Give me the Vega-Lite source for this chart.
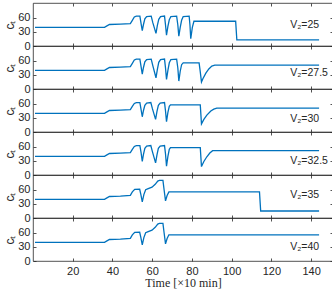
{
  "$schema": "https://vega.github.io/schema/vega-lite/v6.json",
  "padding": {"left": 3, "top": 2, "right": 0, "bottom": 0},
  "background": "white",
  "spacing": 0,
  "bounds": "flush",
  "datasets": {
    "p25": [
      {"t": 1, "c": 40}, {"t": 36, "c": 40}, {"t": 37, "c": 42.5}, {"t": 38.5, "c": 46}, {"t": 44, "c": 47}, {"t": 49, "c": 48},
      {"t": 50, "c": 55}, {"t": 51, "c": 62}, {"t": 52, "c": 64}, {"t": 53.8, "c": 64}, {"t": 54.4, "c": 48}, {"t": 55, "c": 33},
      {"t": 55.6, "c": 46}, {"t": 56.3, "c": 58}, {"t": 57.2, "c": 63}, {"t": 59.5, "c": 64}, {"t": 60.3, "c": 50}, {"t": 61.9, "c": 27},
      {"t": 62.6, "c": 44}, {"t": 63.3, "c": 57}, {"t": 64.2, "c": 63}, {"t": 66.2, "c": 64}, {"t": 66.7, "c": 45}, {"t": 67.2, "c": 23},
      {"t": 67.9, "c": 42}, {"t": 68.6, "c": 56}, {"t": 69.4, "c": 63}, {"t": 72.3, "c": 64}, {"t": 72.9, "c": 45}, {"t": 73.4, "c": 21},
      {"t": 74.1, "c": 40}, {"t": 74.8, "c": 55}, {"t": 75.6, "c": 63}, {"t": 78.6, "c": 64}, {"t": 79, "c": 45}, {"t": 79.4, "c": 15.5},
      {"t": 80.2, "c": 40}, {"t": 81, "c": 53}, {"t": 102, "c": 53}, {"t": 102.6, "c": 13}, {"t": 144, "c": 13}
    ],
    "p275": [
      {"t": 1, "c": 40}, {"t": 36, "c": 40}, {"t": 37, "c": 42.5}, {"t": 38.5, "c": 46}, {"t": 44, "c": 47}, {"t": 49, "c": 48},
      {"t": 50, "c": 55}, {"t": 51, "c": 62}, {"t": 52, "c": 64}, {"t": 53.8, "c": 64}, {"t": 54.4, "c": 48}, {"t": 55, "c": 32},
      {"t": 55.6, "c": 46}, {"t": 56.3, "c": 58}, {"t": 57.2, "c": 63}, {"t": 59.5, "c": 64}, {"t": 60.3, "c": 50}, {"t": 61.9, "c": 24},
      {"t": 62.6, "c": 42}, {"t": 63.3, "c": 57}, {"t": 64.2, "c": 63}, {"t": 66.2, "c": 64}, {"t": 66.7, "c": 45}, {"t": 67.2, "c": 20.5},
      {"t": 67.9, "c": 40}, {"t": 68.6, "c": 56}, {"t": 69.4, "c": 63}, {"t": 72.3, "c": 64}, {"t": 72.9, "c": 45}, {"t": 73.4, "c": 17},
      {"t": 74.1, "c": 38}, {"t": 74.8, "c": 52}, {"t": 75.6, "c": 56}, {"t": 83.6, "c": 56}, {"t": 84.1, "c": 40}, {"t": 84.8, "c": 15},
      {"t": 85.5, "c": 22}, {"t": 87, "c": 34}, {"t": 88.5, "c": 43}, {"t": 90, "c": 49}, {"t": 91.5, "c": 51}, {"t": 144, "c": 51}
    ],
    "p30": [
      {"t": 1, "c": 40}, {"t": 36, "c": 40}, {"t": 37, "c": 42.5}, {"t": 38.5, "c": 46}, {"t": 44, "c": 47}, {"t": 49, "c": 48},
      {"t": 50, "c": 55}, {"t": 51, "c": 61}, {"t": 52, "c": 63}, {"t": 53.8, "c": 63}, {"t": 54.4, "c": 48}, {"t": 55, "c": 32.6},
      {"t": 55.6, "c": 46}, {"t": 56.3, "c": 57}, {"t": 57.2, "c": 62}, {"t": 59.3, "c": 63}, {"t": 60.1, "c": 50}, {"t": 61.7, "c": 27},
      {"t": 62.4, "c": 44}, {"t": 63.1, "c": 57}, {"t": 64, "c": 62}, {"t": 66.2, "c": 63}, {"t": 66.7, "c": 45}, {"t": 67.2, "c": 22},
      {"t": 67.9, "c": 42}, {"t": 68.6, "c": 55}, {"t": 69.2, "c": 58}, {"t": 84.2, "c": 58}, {"t": 84.8, "c": 17.5},
      {"t": 86, "c": 27}, {"t": 87.5, "c": 36}, {"t": 89.5, "c": 45}, {"t": 91, "c": 49}, {"t": 92.5, "c": 51}, {"t": 144, "c": 51}
    ],
    "p325": [
      {"t": 1, "c": 40}, {"t": 36, "c": 40}, {"t": 37, "c": 42.5}, {"t": 38.5, "c": 46}, {"t": 44, "c": 47}, {"t": 49, "c": 48},
      {"t": 50, "c": 55}, {"t": 51, "c": 61}, {"t": 52, "c": 63}, {"t": 53.8, "c": 63}, {"t": 54.4, "c": 48}, {"t": 55, "c": 29},
      {"t": 55.6, "c": 44}, {"t": 56.3, "c": 57}, {"t": 57.2, "c": 62}, {"t": 59.3, "c": 63}, {"t": 60.1, "c": 50}, {"t": 61.7, "c": 26},
      {"t": 62.4, "c": 43}, {"t": 63.1, "c": 57}, {"t": 64, "c": 62}, {"t": 66.2, "c": 63}, {"t": 66.7, "c": 45}, {"t": 67.2, "c": 19},
      {"t": 67.9, "c": 40}, {"t": 68.6, "c": 55}, {"t": 69.2, "c": 58.5}, {"t": 84.2, "c": 58.5}, {"t": 84.8, "c": 18},
      {"t": 86, "c": 29}, {"t": 87.5, "c": 39}, {"t": 89, "c": 47}, {"t": 90.4, "c": 52}, {"t": 144, "c": 52}
    ],
    "p35": [
      {"t": 1, "c": 40}, {"t": 36, "c": 40}, {"t": 37, "c": 42.5}, {"t": 38.5, "c": 46}, {"t": 44, "c": 47}, {"t": 49, "c": 48.5},
      {"t": 50, "c": 56}, {"t": 51.2, "c": 61.4}, {"t": 53.7, "c": 61.5}, {"t": 54.3, "c": 50}, {"t": 55, "c": 34.5}, {"t": 55.8, "c": 50},
      {"t": 56.7, "c": 60.6}, {"t": 58, "c": 63}, {"t": 59.9, "c": 66}, {"t": 61.5, "c": 72}, {"t": 62.8, "c": 79}, {"t": 63.6, "c": 80.5},
      {"t": 65.4, "c": 80.5}, {"t": 66, "c": 60}, {"t": 66.7, "c": 36.6}, {"t": 67.5, "c": 48}, {"t": 68.4, "c": 55.7},
      {"t": 114, "c": 55.7}, {"t": 114.6, "c": 15}, {"t": 144, "c": 15}
    ],
    "p40": [
      {"t": 1, "c": 40}, {"t": 36, "c": 40}, {"t": 37, "c": 42.5}, {"t": 38.5, "c": 46}, {"t": 44, "c": 47}, {"t": 49, "c": 48.5},
      {"t": 50, "c": 56}, {"t": 51.2, "c": 61.4}, {"t": 53.7, "c": 61.5}, {"t": 54.3, "c": 50}, {"t": 55, "c": 34.5}, {"t": 55.8, "c": 50},
      {"t": 56.7, "c": 60.6}, {"t": 58, "c": 63}, {"t": 59.9, "c": 66}, {"t": 61.5, "c": 72}, {"t": 62.8, "c": 79}, {"t": 63.6, "c": 80.5},
      {"t": 65.4, "c": 80.5}, {"t": 66, "c": 60}, {"t": 66.7, "c": 36.6}, {"t": 67.5, "c": 48}, {"t": 68.4, "c": 56},
      {"t": 144, "c": 56}
    ]
  },
  "vconcat": [
    {
      "width": 300, "height": 43,
      "data": {"name": "p25"},
      "layer": [
        {"mark": {"type": "line", "color": "#0072BD", "strokeWidth": 1.3},
         "encoding": {
           "x": {"field": "t", "type": "quantitative", "scale": {"domain": [0, 151], "nice": false, "zero": false}, "axis": {"orient": "bottom", "values": [20, 40, 60, 80, 100, 120, 140], "labels": false, "title": null}},
           "y": {"field": "c", "type": "quantitative", "scale": {"domain": [0, 92], "nice": false}, "axis": {"orient": "left", "values": [0, 30, 60], "title": "cₜ"}}
         }},
        {"mark": {"type": "line", "opacity": 0},
         "encoding": {
           "x": {"field": "t", "type": "quantitative", "axis": {"orient": "top", "values": [20, 40, 60, 80, 100, 120, 140], "labels": false, "title": null}},
           "y": {"field": "c", "type": "quantitative", "axis": {"orient": "right", "values": [0, 30, 60], "labels": false, "title": null}}
         }},
        {"data": {"values": [{}]},
         "mark": {"type": "text", "align": "left", "baseline": "middle", "font": "Liberation Sans", "fontSize": 10.5, "color": "#262626"},
         "encoding": {"x": {"datum": 129.5, "type": "quantitative", "axis": null}, "y": {"datum": 45, "type": "quantitative", "axis": null}, "text": {"value": "V₂=25"}}}
      ],
      "resolve": {"axis": {"x": "independent", "y": "independent"}}
    },
    {
      "width": 300, "height": 43,
      "data": {"name": "p275"},
      "layer": [
        {"mark": {"type": "line", "color": "#0072BD", "strokeWidth": 1.3},
         "encoding": {
           "x": {"field": "t", "type": "quantitative", "scale": {"domain": [0, 151], "nice": false, "zero": false}, "axis": {"orient": "bottom", "values": [20, 40, 60, 80, 100, 120, 140], "labels": false, "title": null}},
           "y": {"field": "c", "type": "quantitative", "scale": {"domain": [0, 92], "nice": false}, "axis": {"orient": "left", "values": [0, 30, 60], "title": "cₜ"}}
         }},
        {"mark": {"type": "line", "opacity": 0},
         "encoding": {
           "x": {"field": "t", "type": "quantitative", "axis": {"orient": "top", "values": [20, 40, 60, 80, 100, 120, 140], "labels": false, "title": null}},
           "y": {"field": "c", "type": "quantitative", "axis": {"orient": "right", "values": [0, 30, 60], "labels": false, "title": null}}
         }},
        {"data": {"values": [{}]},
         "mark": {"type": "text", "align": "left", "baseline": "middle", "font": "Liberation Sans", "fontSize": 10.5, "color": "#262626"},
         "encoding": {"x": {"datum": 129.5, "type": "quantitative", "axis": null}, "y": {"datum": 35, "type": "quantitative", "axis": null}, "text": {"value": "V₂=27.5"}}}
      ],
      "resolve": {"axis": {"x": "independent", "y": "independent"}}
    },
    {
      "width": 300, "height": 43,
      "data": {"name": "p30"},
      "layer": [
        {"mark": {"type": "line", "color": "#0072BD", "strokeWidth": 1.3},
         "encoding": {
           "x": {"field": "t", "type": "quantitative", "scale": {"domain": [0, 151], "nice": false, "zero": false}, "axis": {"orient": "bottom", "values": [20, 40, 60, 80, 100, 120, 140], "labels": false, "title": null}},
           "y": {"field": "c", "type": "quantitative", "scale": {"domain": [0, 92], "nice": false}, "axis": {"orient": "left", "values": [0, 30, 60], "title": "cₜ"}}
         }},
        {"mark": {"type": "line", "opacity": 0},
         "encoding": {
           "x": {"field": "t", "type": "quantitative", "axis": {"orient": "top", "values": [20, 40, 60, 80, 100, 120, 140], "labels": false, "title": null}},
           "y": {"field": "c", "type": "quantitative", "axis": {"orient": "right", "values": [0, 30, 60], "labels": false, "title": null}}
         }},
        {"data": {"values": [{}]},
         "mark": {"type": "text", "align": "left", "baseline": "middle", "font": "Liberation Sans", "fontSize": 10.5, "color": "#262626"},
         "encoding": {"x": {"datum": 129.5, "type": "quantitative", "axis": null}, "y": {"datum": 27, "type": "quantitative", "axis": null}, "text": {"value": "V₂=30"}}}
      ],
      "resolve": {"axis": {"x": "independent", "y": "independent"}}
    },
    {
      "width": 300, "height": 43,
      "data": {"name": "p325"},
      "layer": [
        {"mark": {"type": "line", "color": "#0072BD", "strokeWidth": 1.3},
         "encoding": {
           "x": {"field": "t", "type": "quantitative", "scale": {"domain": [0, 151], "nice": false, "zero": false}, "axis": {"orient": "bottom", "values": [20, 40, 60, 80, 100, 120, 140], "labels": false, "title": null}},
           "y": {"field": "c", "type": "quantitative", "scale": {"domain": [0, 92], "nice": false}, "axis": {"orient": "left", "values": [0, 30, 60], "title": "cₜ"}}
         }},
        {"mark": {"type": "line", "opacity": 0},
         "encoding": {
           "x": {"field": "t", "type": "quantitative", "axis": {"orient": "top", "values": [20, 40, 60, 80, 100, 120, 140], "labels": false, "title": null}},
           "y": {"field": "c", "type": "quantitative", "axis": {"orient": "right", "values": [0, 30, 60], "labels": false, "title": null}}
         }},
        {"data": {"values": [{}]},
         "mark": {"type": "text", "align": "left", "baseline": "middle", "font": "Liberation Sans", "fontSize": 10.5, "color": "#262626"},
         "encoding": {"x": {"datum": 129.5, "type": "quantitative", "axis": null}, "y": {"datum": 31, "type": "quantitative", "axis": null}, "text": {"value": "V₂=32.5"}}}
      ],
      "resolve": {"axis": {"x": "independent", "y": "independent"}}
    },
    {
      "width": 300, "height": 43,
      "data": {"name": "p35"},
      "layer": [
        {"mark": {"type": "line", "color": "#0072BD", "strokeWidth": 1.3},
         "encoding": {
           "x": {"field": "t", "type": "quantitative", "scale": {"domain": [0, 151], "nice": false, "zero": false}, "axis": {"orient": "bottom", "values": [20, 40, 60, 80, 100, 120, 140], "labels": false, "title": null}},
           "y": {"field": "c", "type": "quantitative", "scale": {"domain": [0, 92], "nice": false}, "axis": {"orient": "left", "values": [0, 30, 60], "title": "cₜ"}}
         }},
        {"mark": {"type": "line", "opacity": 0},
         "encoding": {
           "x": {"field": "t", "type": "quantitative", "axis": {"orient": "top", "values": [20, 40, 60, 80, 100, 120, 140], "labels": false, "title": null}},
           "y": {"field": "c", "type": "quantitative", "axis": {"orient": "right", "values": [0, 30, 60], "labels": false, "title": null}}
         }},
        {"data": {"values": [{}]},
         "mark": {"type": "text", "align": "left", "baseline": "middle", "font": "Liberation Sans", "fontSize": 10.5, "color": "#262626"},
         "encoding": {"x": {"datum": 129.5, "type": "quantitative", "axis": null}, "y": {"datum": 50, "type": "quantitative", "axis": null}, "text": {"value": "V₂=35"}}}
      ],
      "resolve": {"axis": {"x": "independent", "y": "independent"}}
    },
    {
      "width": 300, "height": 43,
      "data": {"name": "p40"},
      "layer": [
        {"mark": {"type": "line", "color": "#0072BD", "strokeWidth": 1.3},
         "encoding": {
           "x": {"field": "t", "type": "quantitative", "scale": {"domain": [0, 151], "nice": false, "zero": false}, "axis": {"orient": "bottom", "values": [20, 40, 60, 80, 100, 120, 140], "labels": true, "title": "Time [×10 min]", "titleFont": "Liberation Serif", "titleFontSize": 12, "labelPadding": 7, "titlePadding": 1}},
           "y": {"field": "c", "type": "quantitative", "scale": {"domain": [0, 92], "nice": false}, "axis": {"orient": "left", "values": [0, 30, 60], "title": "cₜ"}}
         }},
        {"mark": {"type": "line", "opacity": 0},
         "encoding": {
           "x": {"field": "t", "type": "quantitative", "axis": {"orient": "top", "values": [20, 40, 60, 80, 100, 120, 140], "labels": false, "title": null}},
           "y": {"field": "c", "type": "quantitative", "axis": {"orient": "right", "values": [0, 30, 60], "labels": false, "title": null}}
         }},
        {"data": {"values": [{}]},
         "mark": {"type": "text", "align": "left", "baseline": "middle", "font": "Liberation Sans", "fontSize": 10.5, "color": "#262626"},
         "encoding": {"x": {"datum": 129.5, "type": "quantitative", "axis": null}, "y": {"datum": 29, "type": "quantitative", "axis": null}, "text": {"value": "V₂=40"}}}
      ],
      "resolve": {"axis": {"x": "independent", "y": "independent"}}
    }
  ],
  "config": {
    "view": {"stroke": "#262626", "strokeWidth": 0.8},
    "axis": {
      "domain": false, "grid": false,
      "tickColor": "#262626", "tickSize": -3, "tickWidth": 0.8,
      "labelFont": "Liberation Sans", "labelFontSize": 11, "labelColor": "#262626", "labelPadding": 6,
      "titleFont": "Liberation Sans", "titleFontSize": 12, "titleFontWeight": "normal", "titleColor": "#262626", "titlePadding": 1
    }
  }
}
